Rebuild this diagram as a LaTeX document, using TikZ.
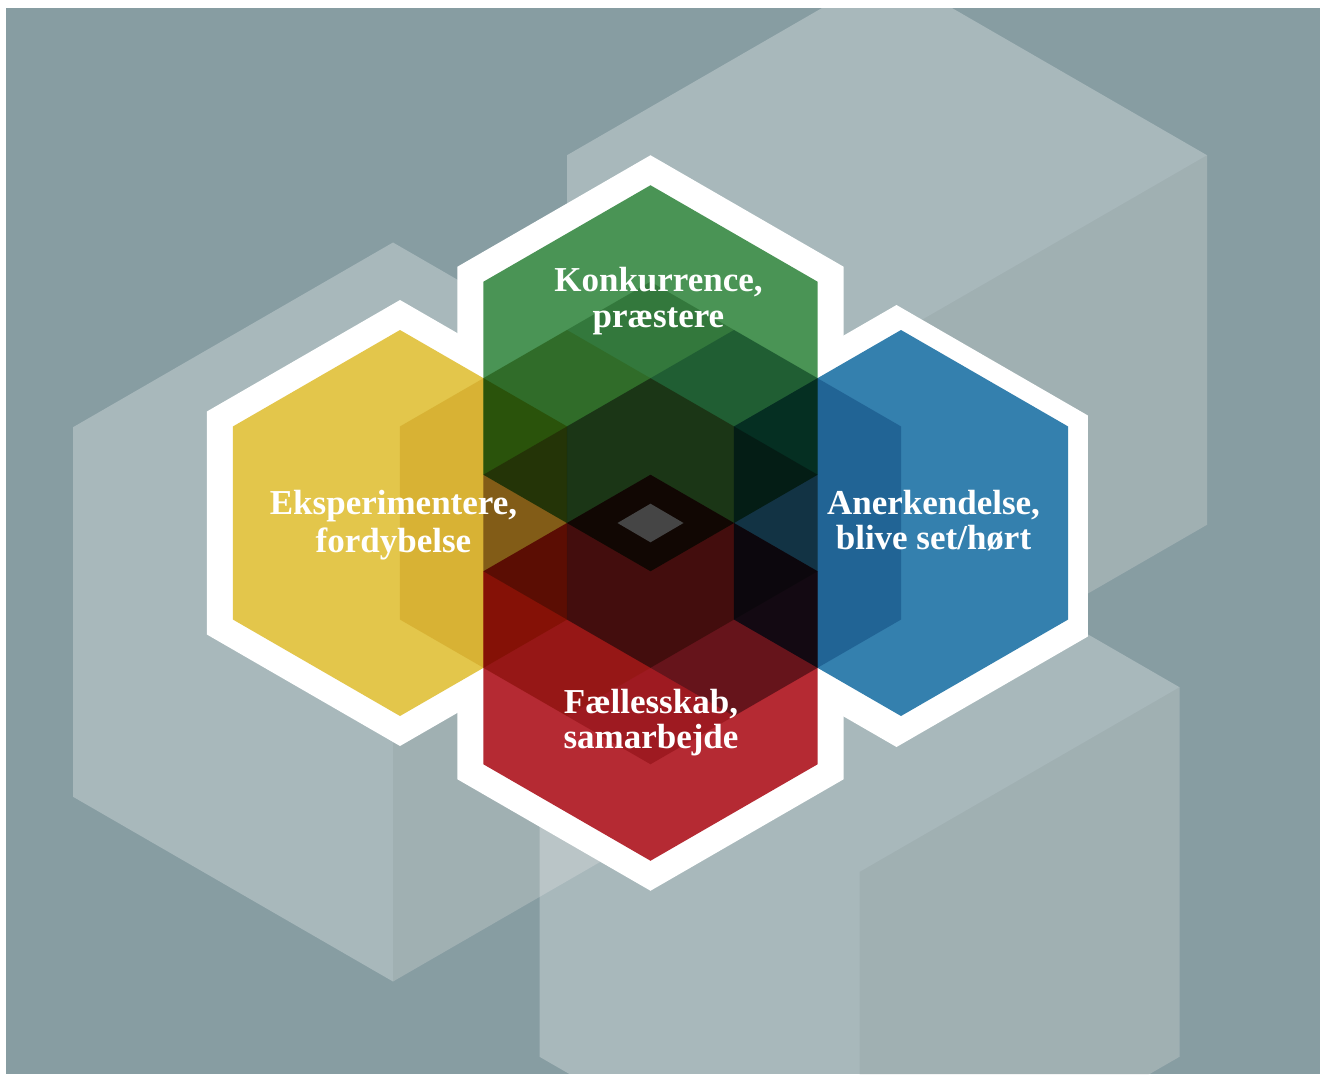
\documentclass[tikz,border=0pt]{standalone}
\usepackage{fontspec}
\setmainfont{Liberation Serif}
\definecolor{bgc}{RGB}{135,157,162}
\definecolor{grn}{RGB}{74,148,85}
\definecolor{yel}{RGB}{227,198,75}
\definecolor{blu}{RGB}{52,128,174}
\definecolor{rd}{RGB}{181,42,51}
\definecolor{gry}{RGB}{69,69,69}
\newcommand{\myhex}[3]{({#1},{#2-#3}) -- ({#1+0.8660254*#3},{#2-0.5*#3}) -- ({#1+0.8660254*#3},{#2+0.5*#3}) -- ({#1},{#2+#3}) -- ({#1-0.8660254*#3},{#2+0.5*#3}) -- ({#1-0.8660254*#3},{#2-0.5*#3}) -- cycle}
\newcommand{\myface}[3]{({#1},{#2}) -- ({#1+0.8660254*#3},{#2-0.5*#3}) -- ({#1+0.8660254*#3},{#2+0.5*#3}) -- ({#1},{#2+#3}) -- cycle}
\tikzset{
  bghex/.style={fill=white, fill opacity=0.28},
  bgface/.style={fill=black, fill opacity=0.045},
  border/.style={fill=white},
  colhex/.style={fill=#1, blend mode=multiply},
  ghost/.style={fill=#1, fill opacity=0.43, blend mode=multiply},
  lbl/.style={text=white, align=center, inner sep=0pt,
    font=\fontsize{17.5}{17.5}\selectfont\bfseries}
}
\begin{document}
\begin{tikzpicture}[x=0.5pt,y=-0.5pt]
\useasboundingbox (0,0) rectangle (1321,1075);
\fill[white] (0,0) rectangle (1321,1075);
\fill[bgc] (6,8) rectangle (1320,1074);
% background cubes
\begin{scope}
\clip (6,8) rectangle (1320,1074);
\fill[bghex] \myhex{887}{340}{369.5};
\fill[bgface] \myface{887}{340}{369.5};
\fill[bghex] \myhex{393}{612}{369.5};
\fill[bgface] \myface{393}{612}{369.5};
\fill[bghex] \myhex{859.5}{872}{369.5};
\fill[bgface] \myface{859.5}{872}{369.5};
\end{scope}
% white borders
\fill[border] \myhex{400}{523}{223};
\fill[border] \myhex{650.5}{378.25}{223};
\fill[border] \myhex{650.5}{667.75}{223};
\fill[border] \myhex{896.5}{526}{221};
% coloured hexagons
\fill[colhex=yel] \myhex{400}{523}{193};
\fill[colhex=grn] \myhex{650.5}{378.25}{193};
\fill[colhex=rd] \myhex{650.5}{667.75}{193};
\fill[colhex=blu] \myhex{901}{523}{193};
% overlap (ghost) hexagons
\fill[ghost=yel] \myhex{567}{523}{193};
\fill[ghost=blu] \myhex{734}{523}{193};
\fill[ghost=grn] \myhex{650.5}{474.75}{193};
\fill[ghost=rd] \myhex{650.5}{571.25}{193};
% centre diamond
\fill[gry] (617.5,523) -- (650.5,503.7) -- (683.5,523) -- (650.5,542.3) -- cycle;
% labels
\node[lbl] (konk) at (658.5,302.5) {\strut Konkurrence,\\præstere\strut};
\node[lbl] (eksp) at (393.5,526.5) {\strut Eksperimentere,\\fordybelse\strut};
\node[lbl] (aner) at (933.5,525) {\strut Anerkendelse,\\blive set/hørt\strut};
\node[lbl] (fael) at (651,723.5) {\strut Fællesskab,\\samarbejde\strut};
\end{tikzpicture}
\end{document}
